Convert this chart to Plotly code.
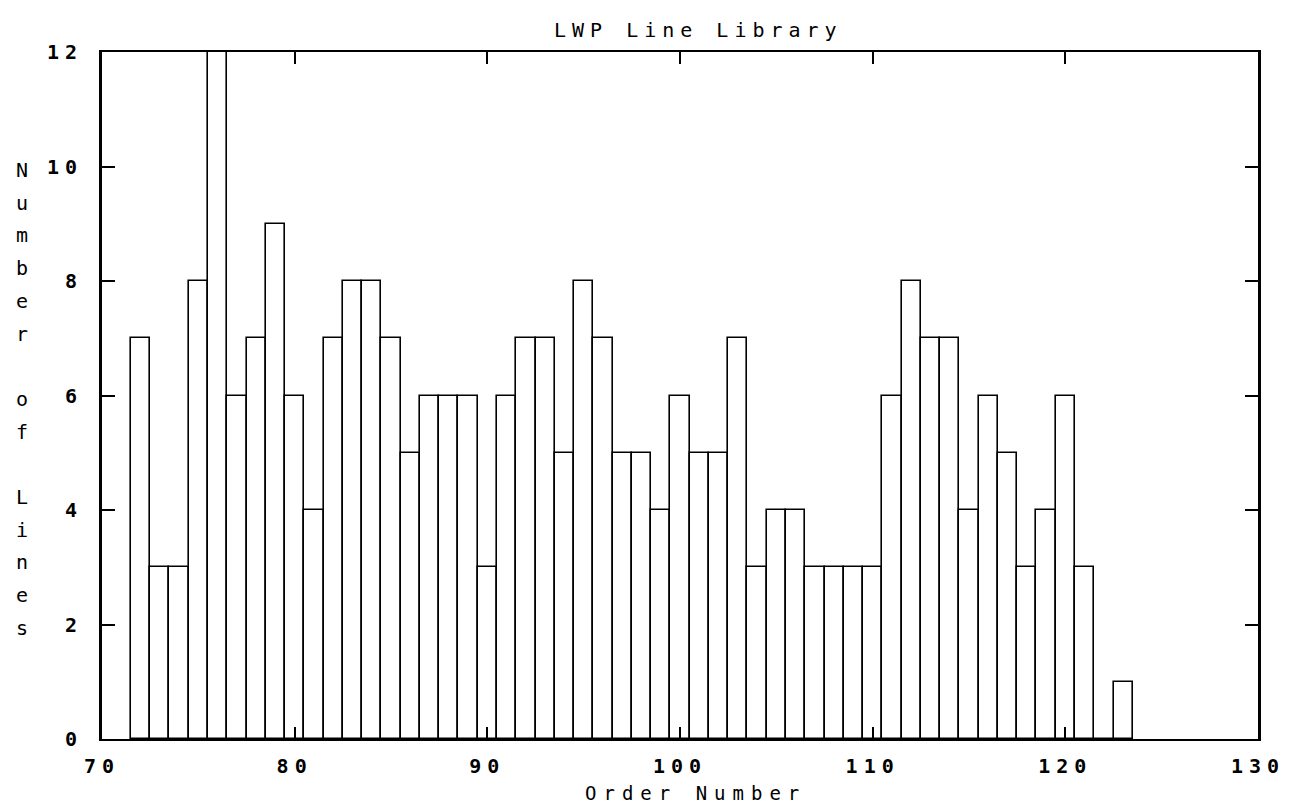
import plotly.graph_objects as go

# ---- data ----
order_numbers = list(range(72, 124))
line_counts = [7, 3, 3, 8, 12, 6, 7, 9, 6, 4,
               7, 8, 8, 7, 5, 6, 6, 6, 3, 6,
               7, 7, 5, 8, 7, 5, 5, 4, 6, 5,
               5, 7, 3, 4, 4, 3, 3, 3, 3, 6,
               8, 7, 7, 4, 6, 5, 3, 4, 6, 3,
               0, 1]
x_ticks = [70, 80, 90, 100, 110, 120, 130]
y_ticks = [0, 2, 4, 6, 8, 10, 12]
title_text = "LWP Line Library"
x_title = "Order Number"
y_title = "Number of Lines"

FONT = "DejaVu Sans Mono"


def spaced(s, px):
    return '<span style="letter-spacing:%dpx">%s</span>' % (px, s)


fig = go.Figure()
fig.add_trace(go.Bar(
    x=order_numbers, y=line_counts, width=1,
    marker=dict(color="white", line=dict(color="black", width=1.6)),
    showlegend=False, hoverinfo="x+y",
))

# frame geometry in px
L, R, T, B = 94, 1250, 44, 731
W, H = R - L, B - T

annotations = [
    dict(text=spaced(title_text, 6), x=(690 - L) / W, y=(B - 22) / H,
         xref="paper", yref="paper", showarrow=False,
         xanchor="center", yanchor="middle",
         font=dict(family=FONT, size=20, color="black")),
    dict(text=spaced(x_title, 7), x=(687 - L) / W, y=(B - 785) / H,
         xref="paper", yref="paper", showarrow=False,
         xanchor="center", yanchor="middle",
         font=dict(family=FONT, size=19, color="black")),
]
for i, ch in enumerate(y_title):
    if ch == " ":
        continue
    ypx = 162 + i * 32.7
    annotations.append(dict(
        text=ch, x=(14 - L) / W, y=(B - ypx) / H,
        xref="paper", yref="paper", showarrow=False,
        xanchor="center", yanchor="middle",
        font=dict(family=FONT, size=20, color="black")))

fig.update_layout(
    width=1304, height=805,
    margin=dict(l=L, r=1304 - R, t=T, b=805 - B),
    paper_bgcolor="white", plot_bgcolor="white",
    bargap=0,
    annotations=annotations,
    font=dict(family=FONT, color="black"),
)
fig.update_xaxes(
    range=[70, 130], tickvals=x_ticks,
    ticktext=["<b>" + spaced(str(v), 6) + "</b>" for v in x_ticks],
    ticks="inside", ticklen=12, tickwidth=1.6, tickcolor="black",
    showline=True, linecolor="black", linewidth=2, mirror="ticks",
    showgrid=False, zeroline=False,
    tickfont=dict(family=FONT, size=20, color="black"),
    ticklabelstandoff=8,
)
fig.update_yaxes(
    range=[0, 12], tickvals=y_ticks,
    ticktext=["<b>" + spaced(str(v), 6) + "</b>" for v in y_ticks],
    ticks="inside", ticklen=13, tickwidth=1.6, tickcolor="black",
    showline=True, linecolor="black", linewidth=3, mirror="ticks",
    showgrid=False, zeroline=False,
    tickfont=dict(family=FONT, size=20, color="black"),
    ticklabelstandoff=12,
)

fig.write_html("out.html")
